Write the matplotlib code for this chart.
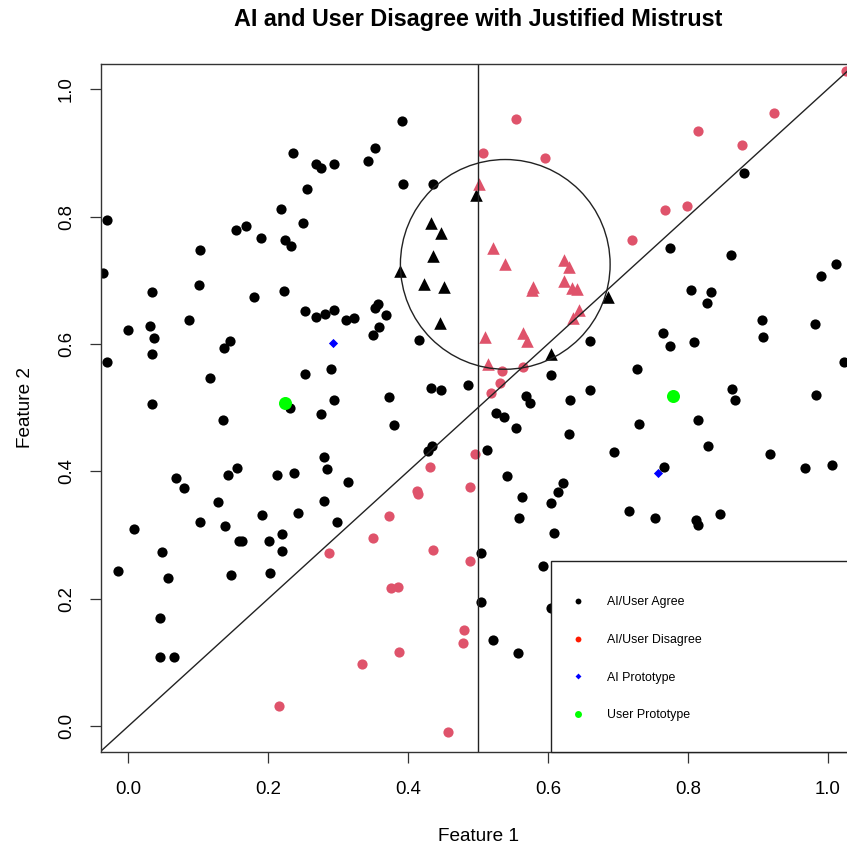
import matplotlib
matplotlib.use('Agg')
import matplotlib.pyplot as plt
from matplotlib.patches import Ellipse, Rectangle

plt.rcParams['font.family'] = ['Liberation Sans', 'DejaVu Sans']

# points where AI and user agree (black dots)
agree_x = [0.235, 0.268, 0.275, 0.294, 0.255, 0.218, -0.030, 0.154, 0.168, 0.189,
           0.249, 0.224, 0.233, 0.103, -0.037, 0.033, 0.101, 0.179, 0.223,
           0.391, 0.352, 0.342, 0.393, 0.436,
           0.881, 0.774, 0.862, 0.805, 0.833, 0.991, 1.012,
           0.253, 0.268, 0.281, 0.294, 0.311, 0.323, 0.000, 0.031, 0.036, 0.034,
           -0.031, 0.087, 0.145, 0.137, 0.117, 0.253, 0.290, 0.294, 0.276, 0.231,
           0.034, 0.135, 0.279, 0.284, 0.314, 0.068, 0.079, 0.142, 0.155, 0.213,
           0.237, 0.128, 0.280, 0.103, 0.138, 0.191, 0.243, 0.298, 0.008,
           0.357, 0.353, 0.368, 0.359, 0.350, 0.416, 0.660, 0.605, 0.660, 0.632,
           0.568, 0.575, 0.526, 0.537, 0.554, 0.630, 0.513, 0.433, 0.447, 0.485,
           0.373, 0.380, 0.434, 0.429, 0.541, 0.621, 0.614, 0.563, 0.604, 0.559,
           0.608,
           0.827, 0.906, 0.982, 0.908, 0.765, 0.774, 0.809, 1.023, 0.727, 0.864,
           0.868, 0.984, 0.731, 0.814, 0.829, 0.695, 0.917, 0.968, 1.007, 0.766,
           0.716, 0.753, 0.812, 0.814, 0.846,
           0.048, -0.015, 0.057, 0.158, 0.163, 0.201, 0.220, 0.220, 0.146, 0.202,
           0.045, 0.045, 0.065,
           0.505, 0.593, 0.504, 0.521, 0.557, 0.604]
agree_y = [0.900, 0.883, 0.876, 0.882, 0.844, 0.812, 0.794, 0.779, 0.786, 0.767,
           0.790, 0.763, 0.754, 0.748, 0.712, 0.681, 0.692, 0.674, 0.683,
           0.950, 0.907, 0.888, 0.851, 0.851,
           0.869, 0.750, 0.740, 0.685, 0.682, 0.707, 0.725,
           0.652, 0.643, 0.647, 0.654, 0.637, 0.641, 0.622, 0.628, 0.609, 0.585,
           0.572, 0.637, 0.605, 0.594, 0.546, 0.553, 0.560, 0.512, 0.490, 0.500,
           0.506, 0.480, 0.423, 0.403, 0.384, 0.390, 0.374, 0.395, 0.406, 0.394,
           0.397, 0.352, 0.353, 0.321, 0.314, 0.331, 0.335, 0.320, 0.310,
           0.662, 0.656, 0.646, 0.626, 0.614, 0.607, 0.604, 0.552, 0.527, 0.512,
           0.518, 0.508, 0.492, 0.485, 0.468, 0.459, 0.433, 0.531, 0.527, 0.536,
           0.516, 0.473, 0.440, 0.432, 0.392, 0.382, 0.368, 0.360, 0.351, 0.326,
           0.303,
           0.665, 0.638, 0.631, 0.611, 0.617, 0.597, 0.603, 0.572, 0.560, 0.530,
           0.512, 0.520, 0.475, 0.480, 0.440, 0.431, 0.427, 0.405, 0.410, 0.407,
           0.337, 0.326, 0.324, 0.315, 0.333,
           0.274, 0.243, 0.233, 0.291, 0.291, 0.291, 0.301, 0.275, 0.237, 0.241,
           0.169, 0.109, 0.109,
           0.271, 0.252, 0.195, 0.135, 0.115, 0.186]

# points where AI and user disagree (red dots)
disagree_x = [0.554, 0.507, 0.596, 1.026, 0.924, 0.815, 0.878, 0.768, 0.799, 0.720,
              0.535, 0.565, 0.532, 0.518, 0.495, 0.432, 0.413, 0.414, 0.488, 0.372,
              0.287, 0.216, 0.350, 0.436, 0.488, 0.375, 0.385, 0.480, 0.478, 0.387,
              0.334, 0.457]
disagree_y = [0.953, 0.900, 0.892, 1.028, 0.963, 0.934, 0.913, 0.810, 0.817, 0.763,
              0.557, 0.564, 0.538, 0.523, 0.427, 0.407, 0.369, 0.364, 0.376, 0.330,
              0.272, 0.031, 0.295, 0.276, 0.259, 0.217, 0.218, 0.151, 0.131, 0.117,
              0.097, -0.009]

# points inside the mistrust region (triangles)
agree_tri_x = [0.497, 0.433, 0.447, 0.436, 0.388, 0.423, 0.452, 0.445, 0.605, 0.686]
agree_tri_y = [0.834, 0.790, 0.774, 0.738, 0.714, 0.694, 0.690, 0.633, 0.584, 0.673]
disagree_tri_x = [0.502, 0.521, 0.538, 0.623, 0.630, 0.623, 0.635, 0.642, 0.578, 0.577,
                  0.510, 0.514, 0.565, 0.570, 0.644, 0.636]
disagree_tri_y = [0.851, 0.750, 0.726, 0.732, 0.721, 0.699, 0.688, 0.687, 0.690, 0.685,
                  0.611, 0.569, 0.617, 0.604, 0.654, 0.641]

ai_proto_x = [0.292, 0.757]
ai_proto_y = [0.602, 0.398]
user_proto_x = [0.224, 0.779]
user_proto_y = [0.507, 0.519]

circle_center = (0.539, 0.725)
circle_radius = 0.150
boundary_x = 0.5
ticks = [0.0, 0.2, 0.4, 0.6, 0.8, 1.0]
legend_labels = ['AI/User Agree', 'AI/User Disagree', 'AI Prototype', 'User Prototype']
legend_colors = ['black', '#FF1A00', '#0000FF', '#00FF00']
legend_markers = ['o', 'o', 'D', 'o']
legend_sizes = [4.2, 4.2, 3.0, 5.0]

RED = '#DF536B'

W, H = 847, 844
fig = plt.figure(figsize=(W / 100, H / 100), dpi=100)
ax_l, ax_r, ax_t, ax_b = 100.5, 855.5, 63.8, 751.5
ax_w, ax_h = ax_r - ax_l, ax_b - ax_t
ax = fig.add_axes([ax_l / W, 1 - ax_b / H, ax_w / W, ax_h / H])

ax.scatter(agree_x, agree_y, s=54, c='black', linewidths=0)
ax.scatter(disagree_x, disagree_y, s=54, c=RED, linewidths=0)
ax.scatter(agree_tri_x, agree_tri_y, s=82, c='black', marker='^', linewidths=0)
ax.scatter(disagree_tri_x, disagree_tri_y, s=82, c=RED, marker='^', linewidths=0)
ax.scatter(ai_proto_x, ai_proto_y, s=22, c='#0000FF', marker='D', linewidths=0)
ax.scatter(user_proto_x, user_proto_y, s=88, c='#00FF00', linewidths=0)

ax.set_xlim(-0.04, 1.04)
ax.set_ylim(-0.04, 1.04)

# y = x line, decision boundary and the circle (round on screen)
ax.axline((0, 0), slope=1, color='#222222', lw=1.0)
ax.axvline(boundary_x, color='#222222', lw=1.0)
aspect = ax_w / ax_h
ax.add_patch(Ellipse(circle_center, 2 * circle_radius, 2 * circle_radius * aspect,
                     fill=False, edgecolor='#222222', lw=1.0))

ax.set_xticks(ticks)
ax.set_yticks(ticks)
ax.set_xticklabels([f'{t:.1f}' for t in ticks])
ax.set_yticklabels([f'{t:.1f}' for t in ticks], rotation=90, va='center')
ax.tick_params(axis='both', length=8, width=0.9, color='#333333', labelsize=13.4)
ax.tick_params(axis='x', pad=13.3)
ax.tick_params(axis='y', pad=10.5)
for sp in ax.spines.values():
    sp.set_color('#333333')
    sp.set_linewidth(1.0)

ax.set_xlabel('Feature 1', fontsize=13.7, va='baseline')
ax.xaxis.set_label_coords(0.5, -(841 - ax_b) / ax_h)
ax.set_ylabel('Feature 2', fontsize=13.7, va='baseline')
ax.yaxis.set_label_coords(-(ax_l - 30) / ax_w, 0.5)

ax.text(0.5, 1 + (ax_t - 26) / ax_h, 'AI and User Disagree with Justified Mistrust',
        transform=ax.transAxes, ha='center', va='baseline', fontsize=16.8, fontweight='bold')

# legend box in the bottom-right corner (R style)
leg_x0 = (551 - ax_l) / ax_w
leg_top = (ax_b - 561) / ax_h
ax.add_patch(Rectangle((leg_x0, 0), 1 - leg_x0, leg_top, transform=ax.transAxes,
                       facecolor='white', edgecolor='#222222', lw=1.0, zorder=5,
                       clip_on=False))
mark_x = (578 - ax_l) / ax_w
text_x = (607 - ax_l) / ax_w
row_px = [601, 638.5, 676, 713.5]
for lab, col, mk, ms, rp in zip(legend_labels, legend_colors, legend_markers,
                                legend_sizes, row_px):
    ry = (ax_b - rp) / ax_h
    ax.plot([mark_x], [ry], ls='', marker=mk, ms=ms, color=col, mew=0,
            transform=ax.transAxes, zorder=6, clip_on=False)
    ax.text(text_x, ry, lab, transform=ax.transAxes, fontsize=8.9,
            va='center_baseline', ha='left', zorder=6)

fig.savefig('out.png', dpi=100)
